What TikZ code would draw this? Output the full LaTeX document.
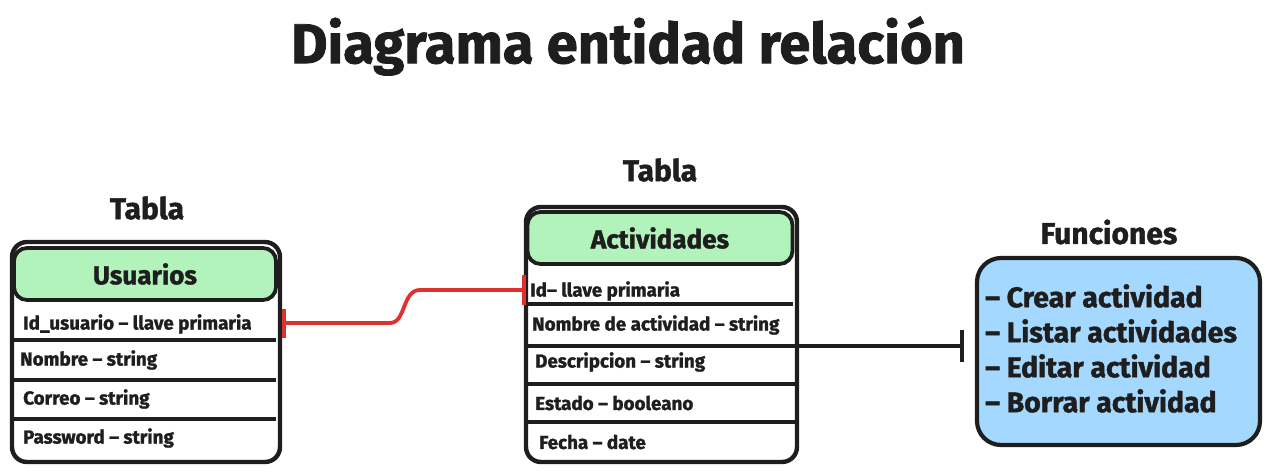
\documentclass[tikz,border=0pt]{standalone}
\usepackage{fontspec}
\setmainfont{Fira Sans}
\newfontfamily\heavyfam{Fira Sans}[BoldFeatures={FakeBold=1.4}]
\newcommand{\heavy}{\heavyfam\bfseries}
\usetikzlibrary{calc}
\definecolor{hdrgreen}{HTML}{B2F2BB}
\definecolor{fnblue}{HTML}{A5D8FF}
\definecolor{linkred}{HTML}{E03131}
\definecolor{ink}{HTML}{1E1E1E}
\tikzset{
  tbl/.style={draw=ink, line width=4.4pt, rounded corners=15pt, fill=white, inner sep=0pt},
  hdr/.style={draw=ink, line width=3.8pt, rounded corners=13pt, fill=hdrgreen, inner sep=0pt,
    font=\fontsize{26}{28}\heavy, text=ink},
  rowtxt/.style={font=\fontsize{18.8}{20}\heavy, text=ink, anchor=west, inner sep=0pt},
  rowline/.style={draw=ink, line width=3.4pt},
  ttl/.style={font=\fontsize{30}{32}\heavy, text=ink},
  fnbox/.style={draw=ink, line width=4.2pt, rounded corners=24pt, fill=fnblue, inner sep=0pt},
  fntxt/.style={font=\fontsize{28.4}{35}\heavy, text=ink, align=left, anchor=north west, inner sep=0pt},
  redlink/.style={draw=linkred, line width=3.8pt},
  blklink/.style={draw=ink, line width=3.6pt},
}
\begin{document}
\begin{tikzpicture}[x=1pt,y=-1pt]
\useasboundingbox (0,0) rectangle (1269,474);

% Title
\node[font=\fontsize{56}{60}\heavy, text=ink] (title) at (628,46) {Diagrama entidad relación};

% ---------- Usuarios ----------
\node[ttl] (tusu) at (147,208) {Tabla};
\node[tbl, minimum width=268pt, minimum height=220pt] (usu) at (146,352) {};
\node[hdr, minimum width=262pt, minimum height=52pt] (usuh) at (145,274) {Usuarios};
\node[rowtxt] (u1) at (23,324) {Id\_usuario – llave primaria};
\draw[rowline] (14,340) -- (276,340);
\node[rowtxt] (u2) at (20,360) {Nombre – string};
\draw[rowline] (14,380) -- (276,380);
\node[rowtxt] (u3) at (23,399) {Correo – string};
\draw[rowline] (14,419) -- (276,419);
\node[rowtxt] (u4) at (23,438) {Password – string};

% ---------- Actividades ----------
\node[ttl] (tact) at (660,170) {Tabla};
\node[tbl, minimum width=271pt, minimum height=255pt] (act) at (661.5,334.5) {};
\node[hdr, minimum width=265pt, minimum height=52pt] (acth) at (660,238) {Actividades};
\node[rowtxt] (a1) at (530,291) {Id– llave primaria};
\draw[rowline] (528,304) -- (793,304);
\node[rowtxt] (a2) at (532,325) {Nombre de actividad – string};
\draw[rowline] (528,346) -- (795,346);
\node[rowtxt] (a3) at (535,362) {Descripcion – string};
\draw[rowline] (528,384) -- (795,384);
\node[rowtxt] (a4) at (535,403) {Estado – booleano};
\draw[rowline] (528,422) -- (795,422);
\node[rowtxt] (a5) at (539,442) {Fecha – date};
\coordinate (aidW) at (524,290);
\coordinate (actE) at (797,346);

% ---------- Funciones ----------
\node[ttl] (tfn) at (1109,232) {Funciones};
\node[fnbox, minimum width=283pt, minimum height=187pt] (fn) at (1118.5,351.5) {};
\node[fntxt] (fnt) at (985,284) {– Crear actividad\\– Listar actividades\\– Editar actividad\\– Borrar actividad};
\coordinate (fnW) at (962,346);

% ---------- Connectors ----------
\coordinate (r1) at (284,323);
\draw[redlink] (r1) -- (390,323) .. controls (406,323) and (402,290) .. (420,290) -- (aidW);
\draw[redlink] (284,309) -- (284,338);
\draw[redlink] (524,275) -- (524,305);

\draw[blklink] (actE) -- (fnW);
\draw[blklink] (962,330) -- (962,362);
\end{tikzpicture}
\end{document}
